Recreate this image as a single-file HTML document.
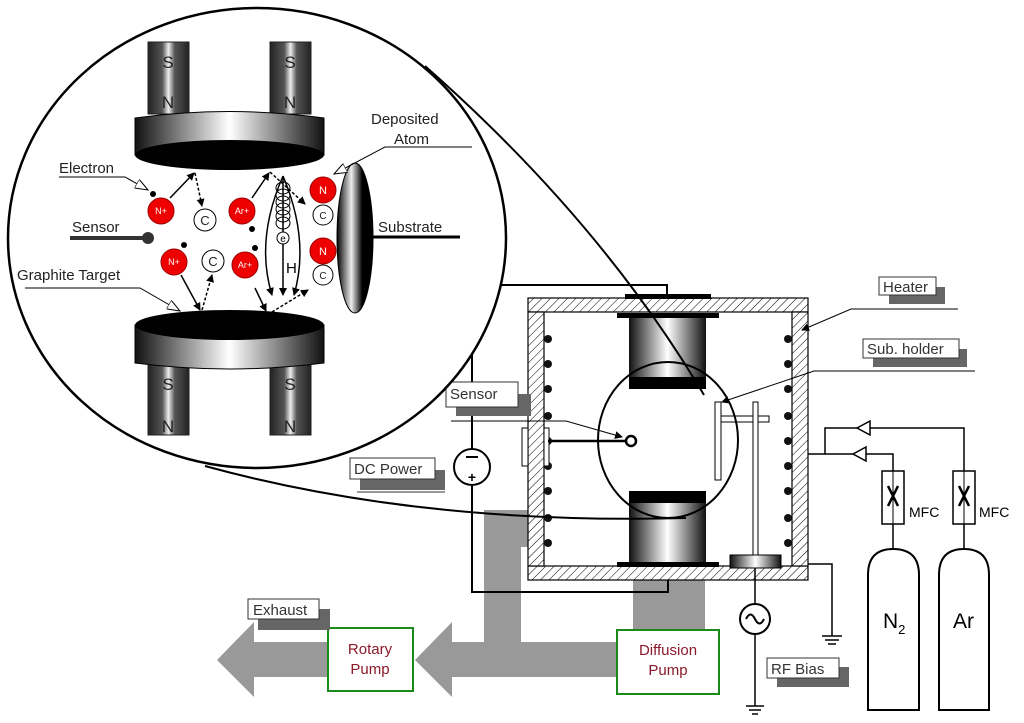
<!DOCTYPE html>
<html><head><meta charset="utf-8"><style>
html,body{margin:0;padding:0;background:#fff;}
svg{display:block;font-family:"Liberation Sans",sans-serif;}
</style></head><body>
<svg width="1024" height="723" viewBox="0 0 1024 723" xmlns="http://www.w3.org/2000/svg">
<defs>
<linearGradient id="hg" x1="0" x2="1" y1="0" y2="0">
<stop offset="0" stop-color="#111"/><stop offset="0.5" stop-color="#fff"/><stop offset="1" stop-color="#111"/>
</linearGradient>
<linearGradient id="hg2" x1="0" x2="1" y1="0" y2="0">
<stop offset="0" stop-color="#222"/><stop offset="0.35" stop-color="#555"/><stop offset="0.5" stop-color="#eee"/><stop offset="0.65" stop-color="#555"/><stop offset="1" stop-color="#222"/>
</linearGradient>
<linearGradient id="sg" x1="0" x2="1" y1="0" y2="0">
<stop offset="0" stop-color="#000"/><stop offset="0.4" stop-color="#eee"/><stop offset="0.7" stop-color="#000"/><stop offset="1" stop-color="#000"/>
</linearGradient>
<pattern id="hatch" width="6" height="6" patternUnits="userSpaceOnUse" patternTransform="rotate(45)">
<rect width="6" height="6" fill="#fff"/><line x1="0" y1="0" x2="0" y2="6" stroke="#000" stroke-width="1"/>
</pattern>
<marker id="ah" markerWidth="8" markerHeight="8" refX="7" refY="4" orient="auto" markerUnits="userSpaceOnUse"><path d="M0,0 L8,4 L0,8 z" fill="#000"/></marker>
<marker id="hollow" markerWidth="14" markerHeight="10" refX="13" refY="5" orient="auto" markerUnits="userSpaceOnUse"><path d="M0,0 L13,5 L0,10 z" fill="#fff" stroke="#000"/></marker>
</defs>

<g fill="#999">
<polygon points="484,510 528,510 528,547 521,547 521,642 617,642 617,677 452,677 452,697 415,660 452,622 452,642 484,642"/>
<rect x="633" y="580" width="72" height="52"/>
<polygon points="328,642 254,642 254,622 217,660 254,697 254,677 328,677"/>
</g>

<polyline points="472,468 472,285 667,285 667,297" fill="none" stroke="#000" stroke-width="2"/>
<polyline points="472,486 472,592 668,592 668,579" fill="none" stroke="#000" stroke-width="2"/>
<circle cx="472" cy="467" r="18" fill="#fff" stroke="#000" stroke-width="2"/>
<line x1="466" y1="457" x2="478" y2="457" stroke="#000" stroke-width="2"/>
<text x="472" y="482" font-size="14" text-anchor="middle" font-weight="bold">+</text>

<g stroke="#000" stroke-width="1.2" fill="url(#hatch)">
<rect x="528" y="298" width="280" height="14"/>
<rect x="528" y="566" width="280" height="14"/>
<rect x="528" y="312" width="16" height="254"/>
<rect x="792" y="312" width="16" height="254"/>
</g>
<rect x="625" y="294" width="86" height="5" fill="#000"/>
<rect x="617" y="313" width="102" height="5" fill="#000"/>
<rect x="629" y="318" width="77" height="62" fill="url(#hg)"/>
<rect x="629" y="377" width="77" height="12" fill="#000"/>
<rect x="629" y="491" width="77" height="12" fill="#000"/>
<rect x="629" y="503" width="77" height="61" fill="url(#hg)"/>
<rect x="617" y="562" width="102" height="5" fill="#000"/>
<g fill="#111">
<circle cx="548" cy="339" r="4"/><circle cx="548" cy="364" r="4"/><circle cx="548" cy="389" r="4"/><circle cx="548" cy="416" r="4"/><circle cx="548" cy="441" r="4"/><circle cx="548" cy="466" r="4"/><circle cx="548" cy="491" r="4"/><circle cx="548" cy="518" r="4"/><circle cx="548" cy="543" r="4"/>
<circle cx="788" cy="339" r="4"/><circle cx="788" cy="364" r="4"/><circle cx="788" cy="389" r="4"/><circle cx="788" cy="416" r="4"/><circle cx="788" cy="441" r="4"/><circle cx="788" cy="466" r="4"/><circle cx="788" cy="491" r="4"/><circle cx="788" cy="518" r="4"/><circle cx="788" cy="543" r="4"/>
</g>
<rect x="522" y="428" width="6" height="38" fill="#fff" stroke="#000"/>
<rect x="544" y="428" width="5" height="38" fill="#fff" stroke="#000"/>
<line x1="548" y1="441" x2="626" y2="441" stroke="#000" stroke-width="2.5"/>
<circle cx="631" cy="441" r="5" fill="#fff" stroke="#000" stroke-width="2.5"/>
<rect x="715" y="402" width="6" height="78" fill="#fff" stroke="#000"/>
<rect x="721" y="416" width="48" height="6" fill="#fff" stroke="#000"/>
<rect x="753" y="402" width="5" height="154" fill="#fff" stroke="#000"/>
<rect x="730" y="555" width="51" height="13" fill="url(#hg)" stroke="#000"/>
<ellipse cx="668" cy="440" rx="70" ry="78" fill="none" stroke="#000" stroke-width="2"/>
<line x1="755" y1="568" x2="755" y2="706" stroke="#000" stroke-width="1.5"/>
<circle cx="755" cy="619" r="15" fill="#fff" stroke="#000" stroke-width="2"/>
<path d="M746,619 q4.5,-9 9,0 t9,0" fill="none" stroke="#000" stroke-width="2"/>
<g stroke="#000" stroke-width="1.5"><line x1="746" y1="706" x2="764" y2="706"/><line x1="749" y1="710" x2="761" y2="710"/><line x1="752" y1="714" x2="758" y2="714"/></g>
<polyline points="808,564 832,564 832,636" fill="none" stroke="#000" stroke-width="1.5"/>
<g stroke="#000" stroke-width="1.5"><line x1="822" y1="636" x2="842" y2="636"/><line x1="825" y1="640" x2="839" y2="640"/><line x1="828" y1="644" x2="836" y2="644"/></g>
<polyline points="808,454 825,454 825,428 964,428 964,471" fill="none" stroke="#000" stroke-width="1.5"/>
<polyline points="825,454 893,454 893,471" fill="none" stroke="#000" stroke-width="1.5"/>
<polygon points="857,428 870,421 870,435" fill="#fff" stroke="#000" stroke-width="1.5"/>
<polygon points="853,454 866,447 866,461" fill="#fff" stroke="#000" stroke-width="1.5"/>
<rect x="882" y="471" width="22" height="53" fill="#fff" stroke="#000" stroke-width="1.5"/>
<rect x="953" y="471" width="22" height="53" fill="#fff" stroke="#000" stroke-width="1.5"/>
<g stroke="#000" stroke-width="2.5"><line x1="888" y1="486" x2="898" y2="506"/><line x1="898" y1="486" x2="888" y2="506"/><line x1="959" y1="486" x2="969" y2="506"/><line x1="969" y1="486" x2="959" y2="506"/></g>
<line x1="893" y1="471" x2="893" y2="524" stroke="#000"/><line x1="964" y1="471" x2="964" y2="524" stroke="#000"/>
<line x1="893" y1="524" x2="893" y2="549" stroke="#000" stroke-width="1.5"/><line x1="964" y1="524" x2="964" y2="549" stroke="#000" stroke-width="1.5"/>
<text x="909" y="517" font-size="14">MFC</text><text x="979" y="517" font-size="14">MFC</text>
<path d="M868,710 V575 Q868,549 893,549 Q919,549 919,575 V710 Z" fill="#fff" stroke="#000" stroke-width="2"/>
<path d="M939,710 V575 Q939,549 964,549 Q989,549 989,575 V710 Z" fill="#fff" stroke="#000" stroke-width="2"/>
<text x="883" y="628" font-size="21">N<tspan font-size="13" dy="6">2</tspan></text>
<text x="953" y="628" font-size="21">Ar</text>

<rect x="617" y="630" width="102" height="64" fill="#fff" stroke="#1a8a1a" stroke-width="2"/>
<text x="668" y="655" font-size="15" fill="#8b1a2a" text-anchor="middle">Diffusion</text>
<text x="668" y="675" font-size="15" fill="#8b1a2a" text-anchor="middle">Pump</text>
<rect x="328" y="628" width="85" height="63" fill="#fff" stroke="#1a8a1a" stroke-width="2"/>
<text x="370" y="654" font-size="15" fill="#8b1a2a" text-anchor="middle">Rotary</text>
<text x="370" y="674" font-size="15" fill="#8b1a2a" text-anchor="middle">Pump</text>

<g font-size="15" fill="#333">
<rect x="258" y="609" width="72" height="21" fill="#666"/><rect x="248" y="599" width="71" height="20" fill="#fff" stroke="#333"/><text x="253" y="615">Exhaust</text>
<rect x="777" y="667" width="72" height="20" fill="#666"/><rect x="767" y="658" width="72" height="20" fill="#fff" stroke="#333"/><text x="771" y="674">RF Bias</text>
<rect x="360" y="470" width="85" height="20" fill="#666"/><rect x="350" y="458" width="85" height="21" fill="#fff" stroke="#333"/><text x="354" y="474">DC Power</text>
<line x1="357" y1="492" x2="445" y2="492" stroke="#333"/>
<rect x="456" y="394" width="75" height="22" fill="#666"/><rect x="446" y="382" width="72" height="25" fill="#fff" stroke="#333"/><text x="450" y="399">Sensor</text>
<rect x="889" y="287" width="56" height="17" fill="#666"/><rect x="879" y="277" width="57" height="18" fill="#fff" stroke="#333"/><text x="883" y="292">Heater</text>
<rect x="873" y="349" width="94" height="18" fill="#666"/><rect x="863" y="339" width="96" height="19" fill="#fff" stroke="#333"/><text x="867" y="354">Sub. holder</text>
</g>
<polyline points="958,309 851,309 802,330" fill="none" stroke="#000" marker-end="url(#ah)"/>
<polyline points="975,371 814,371 722,402" fill="none" stroke="#000" marker-end="url(#ah)"/>
<polyline points="451,421 566,421 622,437" fill="none" stroke="#000" marker-end="url(#ah)"/>

<path d="M425,66 Q600,220 704,395" fill="none" stroke="#000" stroke-width="2"/>
<path d="M205,466 Q420,525 686,518" fill="none" stroke="#000" stroke-width="2"/>

<ellipse cx="257" cy="238" rx="249" ry="230" fill="#fff" stroke="#000" stroke-width="2.5"/>

<rect x="148" y="42" width="41" height="72" fill="url(#hg2)" stroke="#222"/>
<rect x="270" y="42" width="41" height="72" fill="url(#hg2)" stroke="#222"/>
<rect x="148" y="365" width="41" height="70" fill="url(#hg2)" stroke="#222"/>
<rect x="270" y="365" width="41" height="70" fill="url(#hg2)" stroke="#222"/>
<g font-size="17" fill="#222" text-anchor="middle">
<text x="168" y="68">S</text><text x="168" y="108">N</text><text x="290" y="68">S</text><text x="290" y="108">N</text>
<text x="168" y="390">S</text><text x="168" y="432">N</text><text x="290" y="390">S</text><text x="290" y="432">N</text>
</g>
<path d="M135,118 Q229,105 324,118 V155 H135 Z" fill="url(#hg)" stroke="#000"/>
<ellipse cx="229.5" cy="155" rx="94.5" ry="15" fill="#000"/>
<path d="M135,325 H324 V363 Q229,375 135,363 Z" fill="url(#hg)" stroke="#000"/>
<ellipse cx="229.5" cy="325" rx="94.5" ry="15" fill="#000"/>
<ellipse cx="355" cy="238" rx="18" ry="75" fill="url(#sg)" stroke="#000"/>
<line x1="372" y1="237" x2="460" y2="237" stroke="#000" stroke-width="3"/>

<line x1="70" y1="238" x2="148" y2="238" stroke="#333" stroke-width="4"/>
<circle cx="148" cy="238" r="6" fill="#333"/>

<g fill="#e00" stroke="#900">
<circle cx="161" cy="211" r="13"/><circle cx="174" cy="262" r="13"/><circle cx="242" cy="211" r="13"/><circle cx="245" cy="265" r="13"/>
<circle cx="323" cy="190" r="13"/><circle cx="323" cy="251" r="13"/>
</g>
<g font-size="9" fill="#fff" text-anchor="middle">
<text x="161" y="214">N+</text><text x="174" y="265">N+</text><text x="242" y="214">Ar+</text><text x="245" y="268">Ar+</text>
<text x="323" y="194" font-size="11">N</text><text x="323" y="255" font-size="11">N</text>
</g>
<g fill="#fff" stroke="#000">
<circle cx="205" cy="220" r="11"/><circle cx="213" cy="261" r="11"/><circle cx="323" cy="215" r="10"/><circle cx="323" cy="275" r="10"/>
</g>
<g font-size="13" text-anchor="middle" fill="#222">
<text x="205" y="225">C</text><text x="213" y="266">C</text><text x="323" y="219" font-size="10">C</text><text x="323" y="279" font-size="10">C</text>
</g>
<g fill="#000"><circle cx="153" cy="194" r="3"/><circle cx="252" cy="229" r="3"/><circle cx="184" cy="245" r="3"/><circle cx="255" cy="248" r="3"/></g>

<g stroke="#000" stroke-width="1.5" fill="none">
<line x1="170" y1="198" x2="194" y2="173" marker-end="url(#ah)"/>
<line x1="195" y1="173" x2="202" y2="206" stroke-dasharray="3,2" marker-end="url(#ah)"/>
<line x1="252" y1="198" x2="269" y2="173" marker-end="url(#ah)"/>
<line x1="270" y1="172" x2="305" y2="204" stroke-dasharray="3,2" marker-end="url(#ah)"/>
<line x1="181" y1="275" x2="200" y2="310" marker-end="url(#ah)"/>
<line x1="202" y1="310" x2="212" y2="275" stroke-dasharray="3,2" marker-end="url(#ah)"/>
<line x1="255" y1="288" x2="266" y2="311" marker-end="url(#ah)"/>
<line x1="272" y1="312" x2="308" y2="290" stroke-dasharray="3,2" marker-end="url(#ah)"/>
<path d="M283,176 Q255,240 272,295" marker-end="url(#ah)"/>
<path d="M283,176 Q310,240 294,295" marker-end="url(#ah)"/>
<line x1="283" y1="176" x2="283" y2="295" marker-end="url(#ah)"/>
</g>
<g fill="none" stroke="#000" stroke-width="1">
<ellipse cx="283" cy="188" rx="7" ry="6"/><ellipse cx="283" cy="195" rx="7" ry="6"/><ellipse cx="283" cy="202" rx="7" ry="6"/><ellipse cx="283" cy="209" rx="7" ry="6"/><ellipse cx="283" cy="216" rx="7" ry="6"/><ellipse cx="283" cy="223" rx="7" ry="6"/>
</g>
<circle cx="283" cy="238" r="6" fill="#fff" stroke="#000"/>
<text x="283" y="242" font-size="10" text-anchor="middle">e</text>
<text x="286" y="273" font-size="15">H</text>

<g font-size="15" fill="#222">
<text x="59" y="173">Electron</text>
<text x="72" y="232">Sensor</text>
<text x="17" y="280">Graphite Target</text>
<text x="378" y="232">Substrate</text>
<text x="371" y="124">Deposited</text>
<text x="394" y="144">Atom</text>
</g>
<polyline points="59,177 125,177 148,190" fill="none" stroke="#000" marker-end="url(#hollow)"/>
<polyline points="25,288 140,288 180,311" fill="none" stroke="#000" marker-end="url(#hollow)"/>
<polyline points="472,147 385,147 334,174" fill="none" stroke="#000" marker-end="url(#hollow)"/>
</svg>
</body></html>
